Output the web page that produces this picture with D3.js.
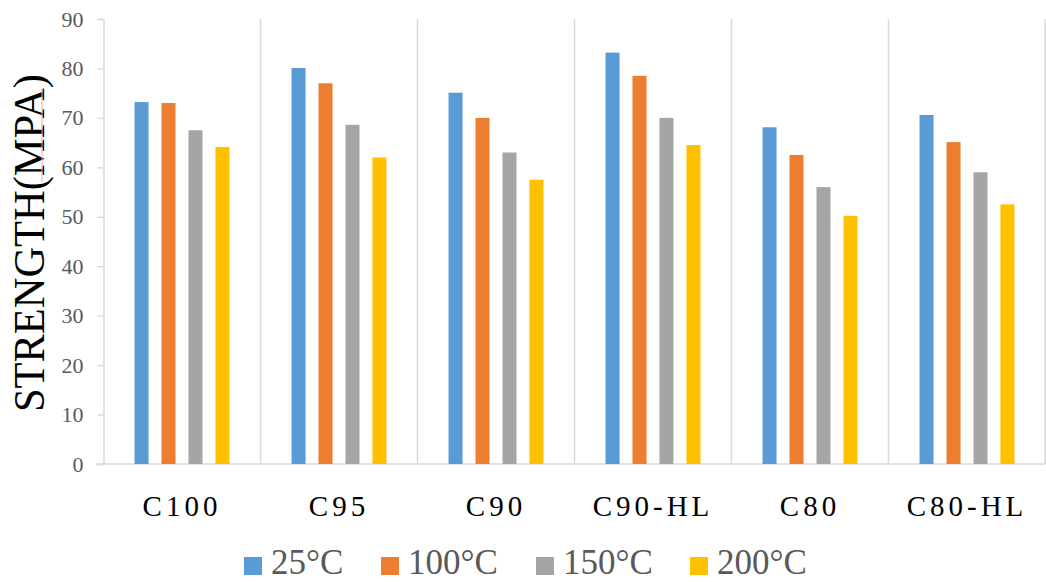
<!DOCTYPE html>
<html>
<head>
<meta charset="utf-8">
<script src="https://cdn.jsdelivr.net/npm/d3@7/dist/d3.min.js"></script>
<style>
  html, body { margin: 0; padding: 0; background: #fff; }
  svg { display: block; }
  svg text { font-family: "Liberation Serif", "DejaVu Serif", serif !important; }
</style>
</head>
<body>
<svg id="chart" width="1046" height="582"></svg>
<script>
const categories = ["C100", "C95", "C90", "C90-HL", "C80", "C80-HL"];
const seriesNames = ["25°C", "100°C", "150°C", "200°C"];
const s25  = [73.2, 80.1, 75.1, 83.2, 68.1, 70.6];
const s100 = [73.0, 77.0, 70.0, 78.5, 62.5, 65.1];
const s150 = [67.5, 68.6, 63.0, 70.0, 56.0, 59.0];
const s200 = [64.1, 62.0, 57.5, 64.5, 50.2, 52.5];
const seriesValues = [s25, s100, s150, s200];
const colors = ["#5B9BD5", "#ED7D31", "#A5A5A5", "#FFC000"];
const yTicks = [0, 10, 20, 30, 40, 50, 60, 70, 80, 90];
const yTitle = "STRENGTH(MPA)";

const serif = "Liberation Serif";
const svg = d3.select("#chart");
const x = d3.scaleBand().domain(categories).range([103.5, 1045.5]).padding(0);
const xs = d3.scaleBand().domain(seriesNames).range([0, x.bandwidth()])
  .paddingInner(0.48).paddingOuter(1.15);
const y = d3.scaleLinear().domain([0, 90]).range([464, 19]);

const grid = "#D9D9D9";

// category separators
svg.append("g").selectAll("line")
  .data(categories.slice(1).concat(["__end"]))
  .join("line")
  .attr("x1", d => d === "__end" ? x.range()[1] - 0.5 : x(d))
  .attr("x2", d => d === "__end" ? x.range()[1] - 0.5 : x(d))
  .attr("y1", y(90)).attr("y2", y(0))
  .attr("stroke", grid).attr("stroke-width", 1.5);

// y axis
const yAxis = svg.append("g").attr("transform", `translate(${x.range()[0]},0)`)
  .call(d3.axisLeft(y).tickValues(yTicks).tickSize(6).tickPadding(14))
  .attr("font-family", serif);
yAxis.select(".domain").attr("stroke", grid).attr("stroke-width", 1.5);
yAxis.selectAll(".tick line").attr("stroke", grid).attr("stroke-width", 1.5);
yAxis.selectAll(".tick text")
  .attr("fill", "#595959")
  .attr("font-family", serif)
  .style("font-size", "22px");

// x axis
const xAxis = svg.append("g").attr("transform", `translate(0,${y(0)})`)
  .call(d3.axisBottom(x).tickSize(0).tickPadding(30))
  .attr("font-family", serif);
xAxis.select(".domain").attr("d", `M96,0H${x.range()[1]}`).attr("stroke", grid).attr("stroke-width", 1.5);
xAxis.selectAll(".tick text")
  .attr("fill", "#000")
  .attr("font-family", serif)
  .attr("dy", 0)
  .attr("y", 52)
  .style("font-size", "29px")
  .style("letter-spacing", "4px");

// bars
const groups = svg.append("g").selectAll("g")
  .data(categories)
  .join("g")
  .attr("transform", d => `translate(${x(d)},0)`);
groups.selectAll("rect")
  .data((c, ci) => seriesNames.map((s, si) => ({ s, si, v: seriesValues[si][ci] })))
  .join("rect")
  .attr("x", d => xs(d.s))
  .attr("width", xs.bandwidth())
  .attr("y", d => y(d.v))
  .attr("height", d => y(0) - y(d.v))
  .attr("fill", d => colors[d.si]);

// y title
svg.append("text")
  .attr("transform", "translate(44,243) rotate(-90)")
  .attr("text-anchor", "middle")
  .attr("fill", "#000")
  .attr("font-family", serif)
  .attr("textLength", 338)
  .attr("lengthAdjust", "spacingAndGlyphs")
  .style("font-size", "44px")
  .text(yTitle);
// spell-check style underline seen in reference
svg.append("line")
  .attr("x1", 42).attr("x2", 42).attr("y1", 88).attr("y2", 182)
  .attr("stroke", "#F4A6A6").attr("stroke-width", 1);

// legend
const legendX = [244, 381, 536, 690];
const leg = svg.append("g").selectAll("g")
  .data(seriesNames)
  .join("g")
  .attr("transform", (d, i) => `translate(${legendX[i]},0)`);
leg.append("rect").attr("x", 0).attr("y", 557).attr("width", 18).attr("height", 18)
  .attr("fill", (d, i) => colors[i]);
leg.append("text").attr("x", 27).attr("y", 574)
  .attr("fill", "#595959")
  .attr("font-family", serif)
  .style("font-size", "35px")
  .text(d => d);
</script>
</body>
</html>
